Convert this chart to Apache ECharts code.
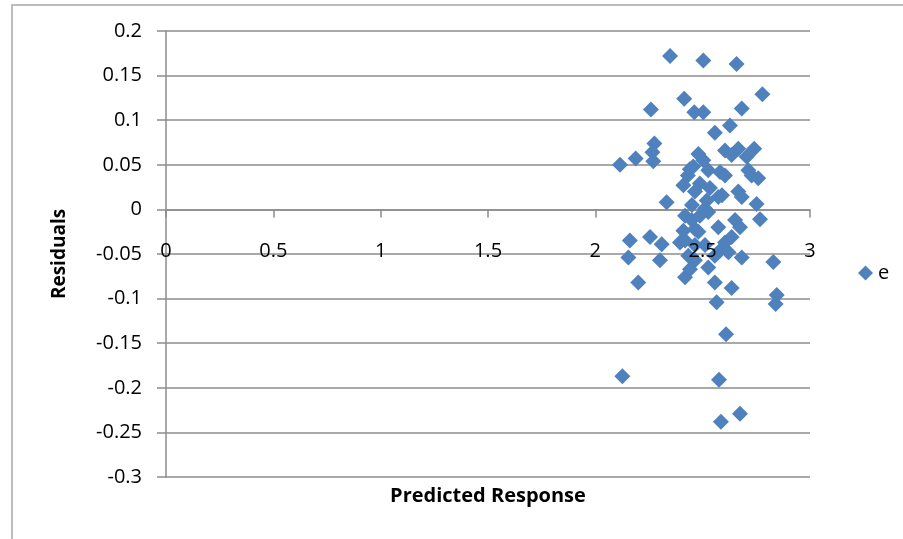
<!DOCTYPE html>
<html>
<head>
<meta charset="utf-8">
<script src="https://cdn.jsdelivr.net/npm/echarts@6/dist/echarts.min.js"></script>
<style>
  html, body { margin: 0; padding: 0; background: #fff; }
  #chart { width: 903px; height: 539px; }
</style>
</head>
<body>
<div id="chart"></div>
<script>
// predicted response (x) and residual e (y)
const predicted = [
  2.348, 2.503, 2.658, 2.259, 2.414, 2.461, 2.503, 2.682, 2.778, 2.627,
  2.557, 2.115, 2.188, 2.275, 2.266, 2.270, 2.480, 2.503, 2.604, 2.666,
  2.740, 2.705, 2.635, 2.456, 2.526, 2.581, 2.604, 2.713, 2.759, 2.728,
  2.410, 2.464, 2.332, 2.519, 2.573, 2.666, 2.682, 2.751, 2.511, 2.418,
  2.449, 2.410, 2.464, 2.526, 2.573, 2.651, 2.674, 2.767, 2.161, 2.255,
  2.309, 2.154, 2.301, 2.394, 2.433, 2.464, 2.418, 2.441, 2.526, 2.557,
  2.581, 2.604, 2.620, 2.635, 2.682, 2.829, 2.200, 2.635, 2.845, 2.565,
  2.840, 2.609, 2.126, 2.576, 2.674, 2.585, 2.450, 2.487, 2.418, 2.511,
  2.464, 2.487, 2.534, 2.431, 2.590, 2.557, 2.480, 2.440
]
const residuals = [
  0.172, 0.167, 0.163, 0.112, 0.124, 0.109, 0.109, 0.113, 0.129, 0.094,
  0.086, 0.050, 0.057, 0.074, 0.064, 0.054, 0.062, 0.055, 0.066, 0.068,
  0.068, 0.059, 0.061, 0.048, 0.044, 0.042, 0.038, 0.044, 0.035, 0.038,
  0.027, 0.020, 0.008, 0.010, 0.014, 0.020, 0.014, 0.006, 0.001, -0.007,
  -0.012, -0.024, -0.022, -0.003, -0.020, -0.012, -0.020, -0.011, -0.035, -0.031,
  -0.039, -0.054, -0.057, -0.037, -0.052, -0.057, -0.076, -0.067, -0.065, -0.082,
  -0.046, -0.037, -0.048, -0.031, -0.054, -0.059, -0.082, -0.088, -0.096, -0.104,
  -0.106, -0.140, -0.187, -0.191, -0.229, -0.238, 0.005, -0.007, -0.035, -0.040,
  -0.040, 0.029, 0.024, 0.038, 0.016, -0.052, -0.025, 0.045
]
const seriesName = 'e'

const gray = '#8c8c8c'
const blue = '#4f81bd'
const font = '"Open Sans", "Noto Sans", sans-serif'

// plot box, in px
const gridTop = 31
const gridBottom = 62
const plotH = 539 - gridTop - gridBottom
const yMin = -0.3
const yMax = 0.2
// horizontal axis sits on y = 0, as in the spreadsheet chart
const xAxisOffset = -plotH * (0 - yMin) / (yMax - yMin)

const xBase = { type: 'value', min: 0, max: 3, interval: 0.5, offset: xAxisOffset, splitLine: { show: false } }

const chart = echarts.init(document.getElementById('chart'))

chart.setOption({
  animation: false,
  backgroundColor: '#fff',
  graphic: [
    {
      type: 'rect',
      shape: { x: 12, y: 5, width: 1000, height: 700 },
      style: { fill: 'none', stroke: '#a6a6a6', lineWidth: 1.5 },
      silent: true,
    },
  ],
  legend: {
    left: 853,
    top: 258,
    icon: 'diamond',
    itemWidth: 15,
    itemHeight: 15,
    itemGap: 4,
    textStyle: { fontFamily: font, fontSize: 20, color: '#000' },
    data: [seriesName],
  },
  grid: { left: 166, right: 93, top: gridTop, bottom: gridBottom, outerBoundsMode: 'none' },
  xAxis: [
    {
      ...xBase,
      name: 'Predicted Response',
      nameLocation: 'middle',
      nameGap: 277,
      nameTextStyle: { fontFamily: font, fontSize: 20, fontWeight: 'bold', color: '#000' },
      axisLine: { onZero: false, lineStyle: { color: gray, width: 1.5 } },
      axisTick: { show: true, length: 8, lineStyle: { color: gray, width: 1.5 } },
      axisLabel: { show: false },
    },
    {
      // tick labels only, drawn above the markers
      ...xBase,
      position: 'bottom',
      z: 5,
      axisLine: { show: false },
      axisTick: { show: false },
      axisLabel: { margin: 32, fontFamily: font, fontSize: 20, color: '#000' },
    },
  ],
  yAxis: {
    type: 'value',
    min: yMin,
    max: yMax,
    interval: 0.05,
    name: 'Residuals',
    nameLocation: 'middle',
    nameGap: 97,
    nameTextStyle: { fontFamily: font, fontSize: 19, fontWeight: 'bold', color: '#000' },
    axisLine: { show: true, onZero: false, lineStyle: { color: gray, width: 1.5 } },
    axisTick: { show: true, length: 9, lineStyle: { color: gray, width: 1.5 } },
    axisLabel: {
      margin: 24,
      fontFamily: font,
      fontSize: 20,
      color: '#000',
      formatter: v => String(+v.toFixed(2)),
    },
    splitLine: { show: true, lineStyle: { color: gray, width: 1.5 } },
  },
  series: [
    {
      name: seriesName,
      type: 'scatter',
      symbol: 'diamond',
      symbolSize: 16,
      itemStyle: { color: blue, opacity: 1 },
      data: predicted.map((x, i) => [x, residuals[i]]),
    },
  ],
})
</script>
</body>
</html>
